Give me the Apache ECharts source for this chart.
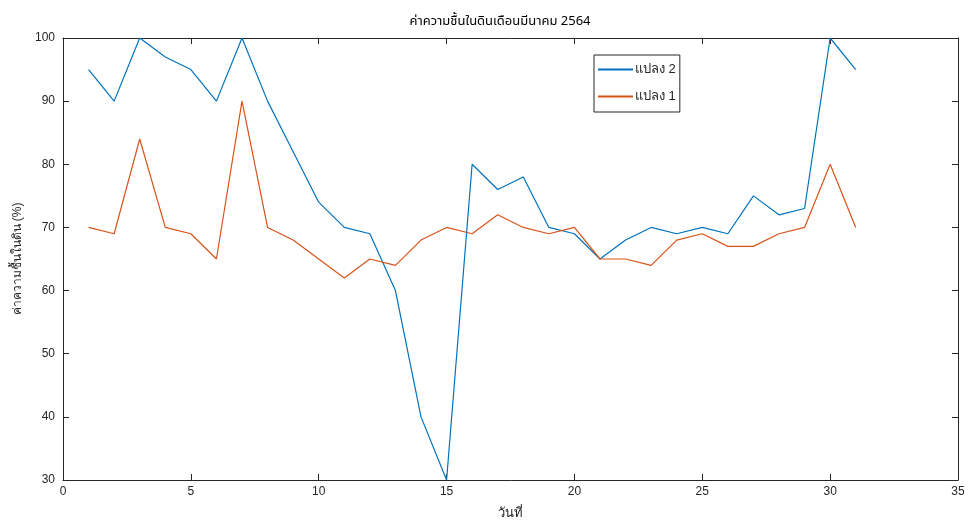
<!DOCTYPE html>
<html>
<head>
<meta charset="utf-8">
<script src="https://cdn.jsdelivr.net/npm/echarts@6/dist/echarts.min.js"></script>
<style>
  html, body { margin: 0; padding: 0; background: #fff; }
  #chart { width: 968px; height: 521px; }
</style>
</head>
<body>
<div id="chart"></div>
<script>
// Soil moisture per day, March 2564
const days = Array.from({ length: 31 }, (_, i) => i + 1);
const plot2 = [95, 90, 100, 97, 95, 90, 100, 90, 82, 74, 70, 69, 60, 40, 30, 80, 76, 78, 70, 69, 65, 68, 70, 69, 70, 69, 75, 72, 73, 100, 95];
const plot1 = [70, 69, 84, 70, 69, 65, 90, 70, 68, 65, 62, 65, 64, 68, 70, 69, 72, 70, 69, 70, 65, 65, 64, 68, 69, 67, 67, 69, 70, 80, 70];
const xTicks = [0, 5, 10, 15, 20, 25, 30, 35];
const yTicks = [30, 40, 50, 60, 70, 80, 90, 100];

const axisColor = '#262626';
const tickFont = { color: axisColor, fontSize: 12, fontFamily: 'Liberation Sans, Arial, sans-serif' };

const chart = echarts.init(document.getElementById('chart'), null, { renderer: 'canvas' });

const frameAxis = (extra) => Object.assign({
  axisLine: { show: true, onZero: false, lineStyle: { color: axisColor, width: 1 } },
  axisTick: { show: true, inside: true, length: 6, lineStyle: { color: axisColor } },
  splitLine: { show: false }
}, extra);

chart.setOption({
  animation: false,
  backgroundColor: '#fff',
  title: {
    text: 'ค่าความชื้นในดินเดือนมีนาคม 2564',
    left: 495, top: 11, textAlign: 'center',
    textStyle: { fontSize: 13, fontWeight: 'normal', color: '#000', fontFamily: 'Tahoma, Noto Sans Thai, sans-serif' }
  },
  grid: { left: 63, right: 10, top: 38, bottom: 41, outerBoundsMode: 'none', containLabel: false },
  legend: {
    data: ['แปลง 2', 'แปลง 1'],
    orient: 'vertical',
    left: 594, top: 55,
    itemWidth: 35, itemHeight: 2, itemGap: 14,
    icon: 'rect',
    backgroundColor: '#fff',
    borderColor: '#262626', borderWidth: 1,
    padding: [8, 4, 9, 4],
    textStyle: { fontSize: 13, color: axisColor, fontFamily: 'Tahoma, sans-serif', padding: [0, 0, 0, -3] }
  },
  xAxis: [
    frameAxis({
      type: 'value', min: 0, max: 35, interval: 5,
      name: 'วันที่', nameLocation: 'middle', nameGap: 27,
      nameTextStyle: { fontSize: 13, color: axisColor },
      axisLabel: Object.assign({ margin: 6, formatter: v => xTicks.includes(v) ? String(v) : '' }, tickFont)
    }),
    frameAxis({ type: 'value', position: 'top', min: 0, max: 35, interval: 5, axisLabel: { show: false } })
  ],
  yAxis: [
    frameAxis({
      type: 'value', min: 30, max: 100, interval: 10,
      name: 'ค่าความชื้นในดิน (%)', nameLocation: 'middle', nameGap: 38, nameRotate: 90,
      nameTextStyle: { fontSize: 12, color: axisColor },
      axisLabel: Object.assign({ margin: 8, formatter: v => yTicks.includes(v) ? String(v) : '' }, tickFont)
    }),
    frameAxis({ type: 'value', position: 'right', min: 30, max: 100, interval: 10, axisLabel: { show: false } })
  ],
  series: [
    {
      name: 'แปลง 2', type: 'line', showSymbol: false,
      data: days.map((d, i) => [d, plot2[i]]),
      lineStyle: { color: '#0072BD', width: 1.2 }, itemStyle: { color: '#0072BD' }
    },
    {
      name: 'แปลง 1', type: 'line', showSymbol: false,
      data: days.map((d, i) => [d, plot1[i]]),
      lineStyle: { color: '#D95319', width: 1.2 }, itemStyle: { color: '#D95319' }
    }
  ]
});
</script>
</body>
</html>
